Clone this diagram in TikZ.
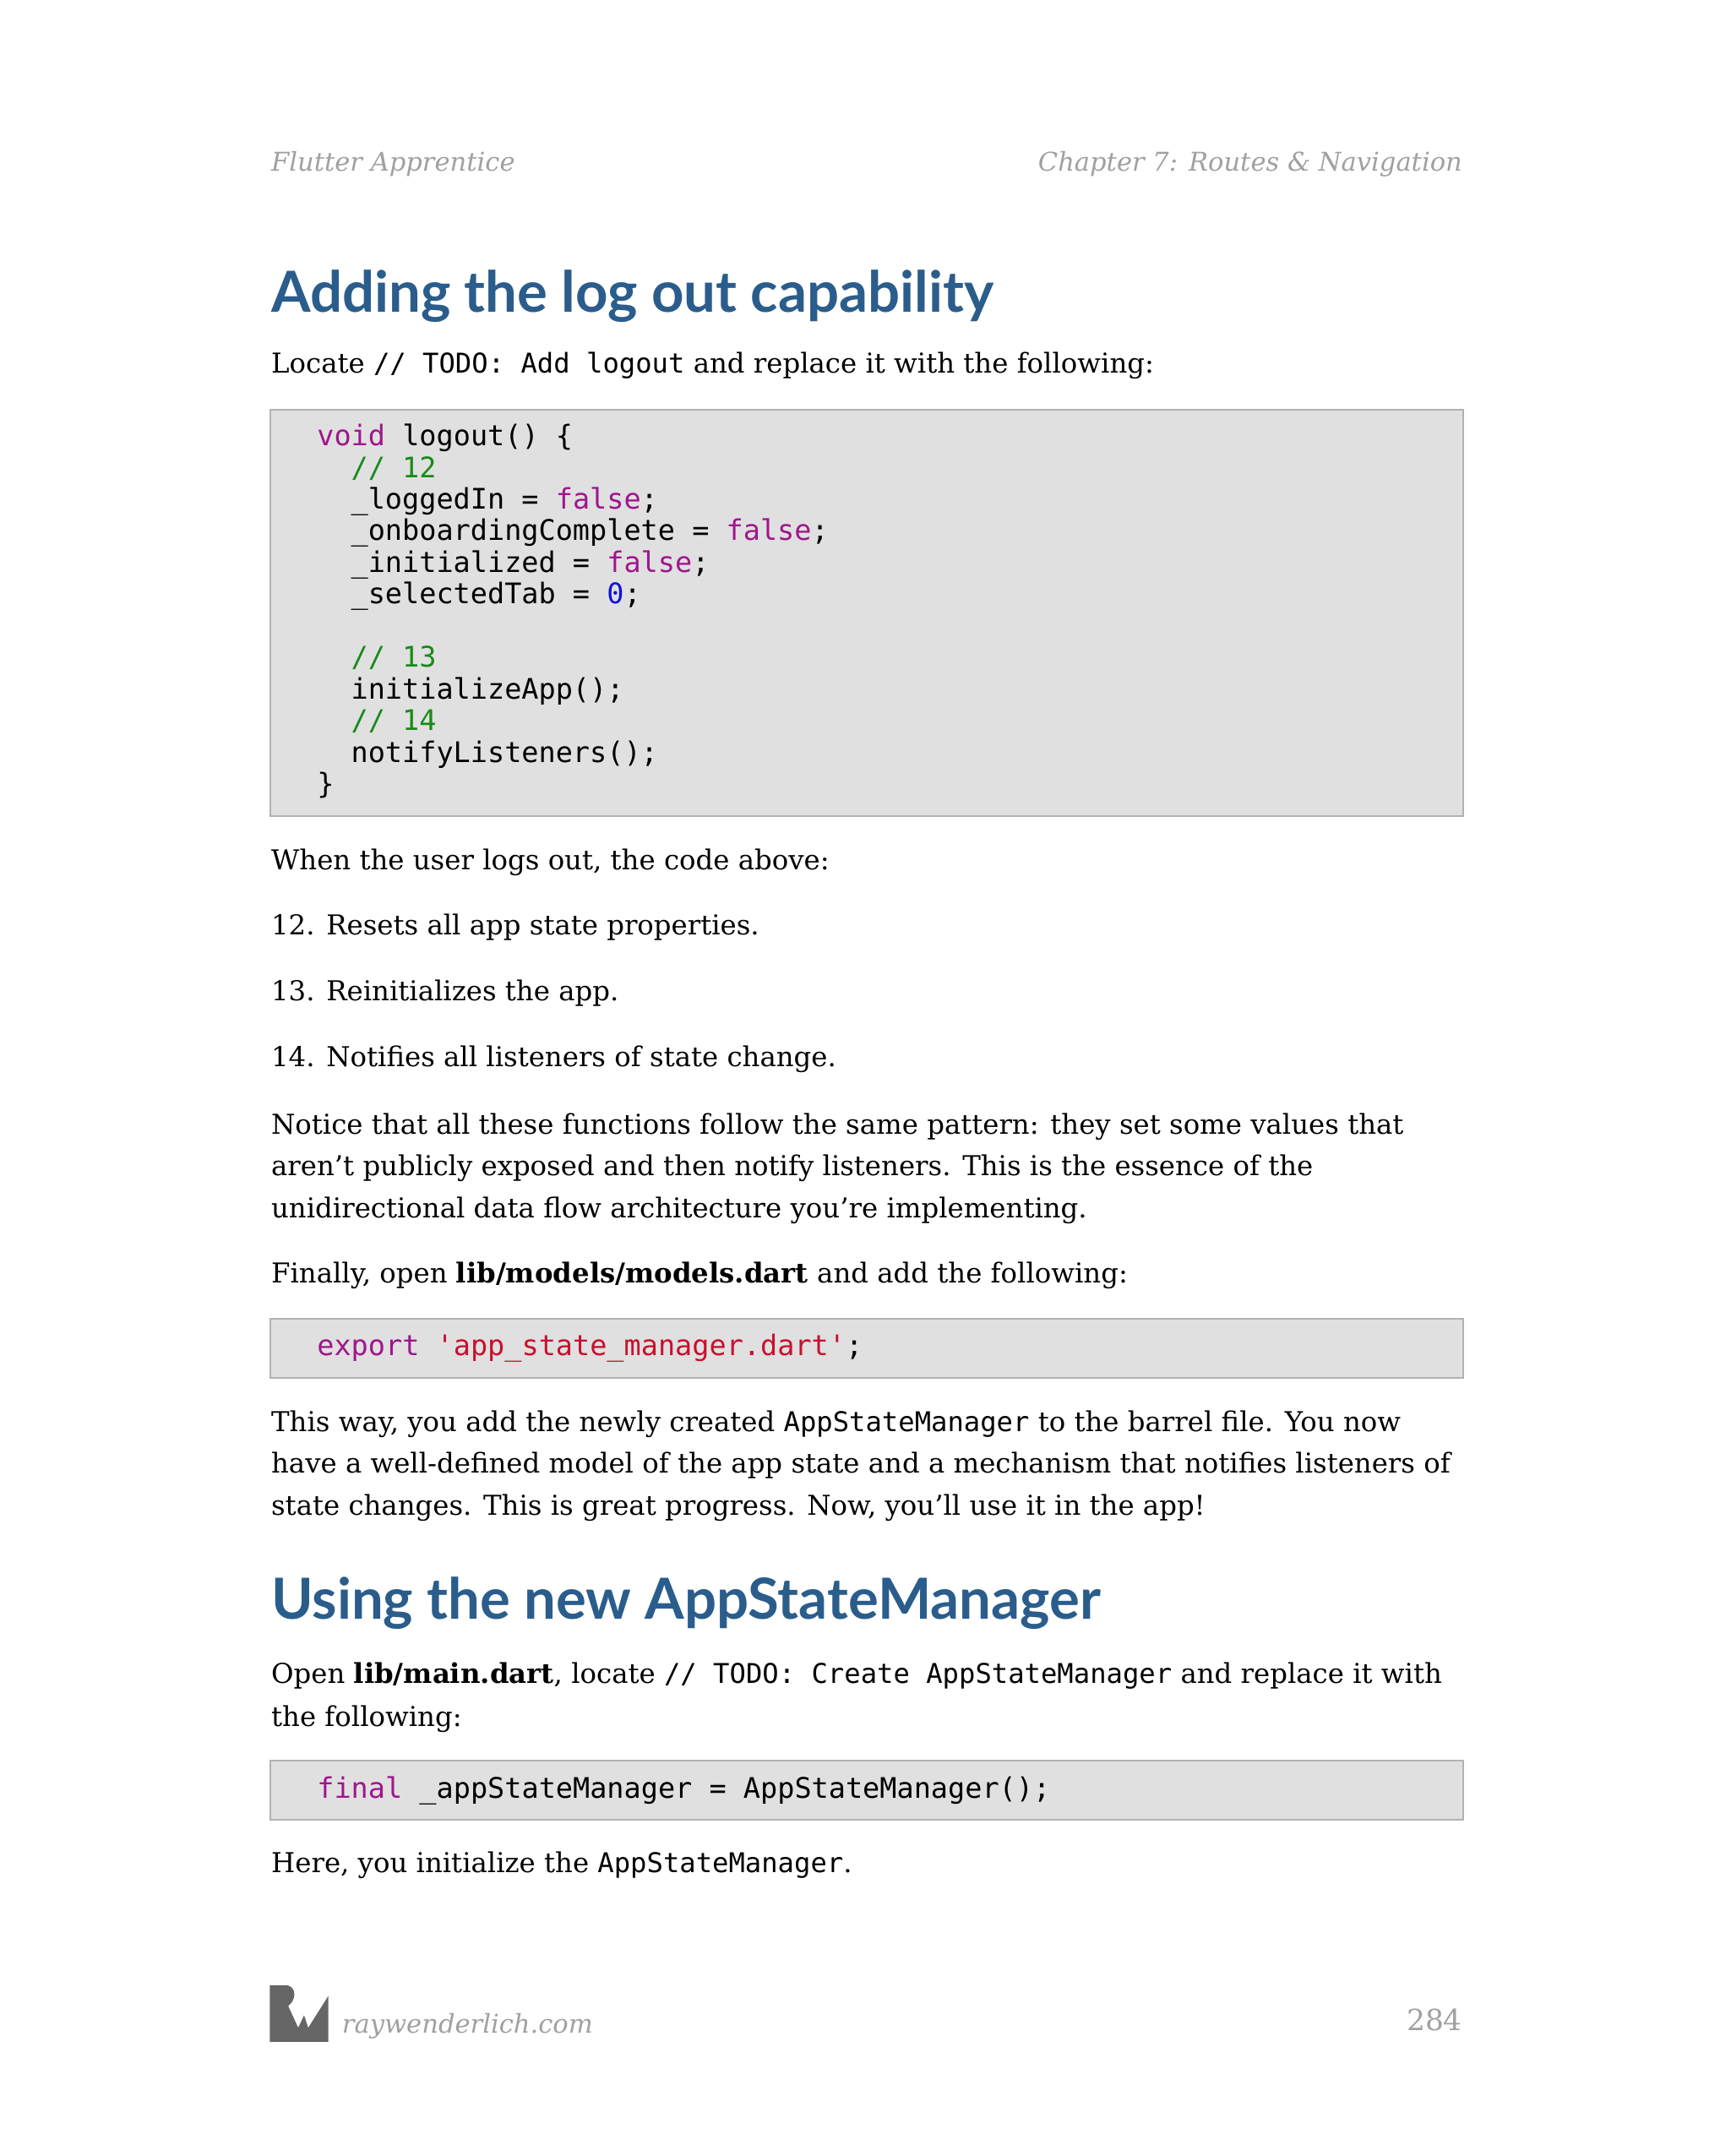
\documentclass[tikz,border=0pt]{standalone}
\usepackage{fontspec}
\setmainfont{DejaVu Serif}
\newfontfamily\hd{Lato}
\newfontfamily\cd{DejaVu Sans Mono}
\definecolor{hblue}{HTML}{2A5D8C}
\definecolor{kw}{HTML}{A0168C}
\definecolor{cm}{HTML}{1A8A1A}
\definecolor{st}{HTML}{C8102E}
\definecolor{nm}{HTML}{1010E0}
\definecolor{gr}{HTML}{A0A0A0}
\newcommand{\ic}[1]{{\cd\fontsize{9.8}{11}\selectfont #1}}
\newcommand{\ind}{\hspace*{1.2em}}
\tikzset{
 body/.style={anchor=base west,inner sep=0,font=\fontsize{9.85}{11}\selectfont},
 codel/.style={anchor=base west,inner sep=0,font=\cd\fontsize{10.2}{11}\selectfont},
 head/.style={anchor=base west,inner sep=0,text=hblue,font=\hd\bfseries\fontsize{20.4}{24}\selectfont},
 box/.style={fill=black!12,draw=black!30,line width=0.6pt},
 runhead/.style={inner sep=0,text=gr,font=\itshape\fontsize{9.3}{11}\selectfont}
}
\begin{document}
\begin{tikzpicture}[x=0.3pt,y=-0.3pt]
\useasboundingbox (0,0) rectangle (2077,2588);
\node[runhead,anchor=base west] (h1) at (325,205) {Flutter Apprentice};
\node[runhead,anchor=base east] (h2) at (1756,205) {Chapter 7: Routes \& Navigation};
\node[head] (t1) at (325,375) {Adding the log out capability};
\node[body] (p1) at (325,448) {Locate \ic{// TODO: Add logout} and replace it with the following:};
\draw[box] (325,492) rectangle (1756,980);
\node[codel] at (380,535) {\textcolor{kw}{void} logout() \{};
\node[codel] at (380,573) {\ind\textcolor{cm}{// 12}};
\node[codel] at (380,611) {\ind\_loggedIn = \textcolor{kw}{false};};
\node[codel] at (380,649) {\ind\_onboardingComplete = \textcolor{kw}{false};};
\node[codel] at (380,687) {\ind\_initialized = \textcolor{kw}{false};};
\node[codel] at (380,725) {\ind\_selectedTab = \textcolor{nm}{0};};
\node[codel] at (380,801) {\ind\textcolor{cm}{// 13}};
\node[codel] at (380,839) {\ind initializeApp();};
\node[codel] at (380,877) {\ind\textcolor{cm}{// 14}};
\node[codel] at (380,915) {\ind notifyListeners();};
\node[codel] at (380,953) {\}};
\node[body] at (325,1044) {When the user logs out, the code above:};
\node[body] at (325,1122) {12. Resets all app state properties.};
\node[body] at (325,1201) {13. Reinitializes the app.};
\node[body] at (325,1280) {14. Notifies all listeners of state change.};
\node[body] at (325,1361) {Notice that all these functions follow the same pattern: they set some values that};
\node[body] at (325,1411) {aren’t publicly exposed and then notify listeners. This is the essence of the};
\node[body] at (325,1462) {unidirectional data flow architecture you’re implementing.};
\node[body] at (325,1540) {Finally, open \textbf{lib/models/models.dart} and add the following:};
\draw[box] (325,1583) rectangle (1756,1654);
\node[codel] at (380,1627) {\textcolor{kw}{export} \textcolor{st}{'app\_state\_manager.dart'};};
\node[body] at (325,1718) {This way, you add the newly created \ic{AppStateManager} to the barrel file. You now};
\node[body] at (325,1768) {have a well-defined model of the app state and a mechanism that notifies listeners of};
\node[body] at (325,1819) {state changes. This is great progress. Now, you’ll use it in the app!};
\node[head] (t2) at (325,1944) {Using the new AppStateManager};
\node[body] at (325,2021) {Open \textbf{lib/main.dart}, locate \ic{// TODO: Create AppStateManager} and replace it with};
\node[body] at (325,2072) {the following:};
\draw[box] (325,2113) rectangle (1756,2184);
\node[codel] at (380,2158) {\textcolor{kw}{final} \_appStateManager = AppStateManager();};
\node[body] at (325,2248) {Here, you initialize the \ic{AppStateManager}.};
\fill[black!60] (324,2383) -- (345,2383) .. controls (356,2386) and (356,2400) .. (346,2408)
  -- (358,2434) -- (365,2419) -- (370,2434) -- (394,2396) -- (394,2451) -- (324,2451) -- cycle;
\node[runhead,anchor=base west] (ft) at (410,2440) {raywenderlich.com};
\node[runhead,anchor=base east,font=\fontsize{10.5}{12}\selectfont] (pg) at (1756,2437) {284};
\end{tikzpicture}
\end{document}
